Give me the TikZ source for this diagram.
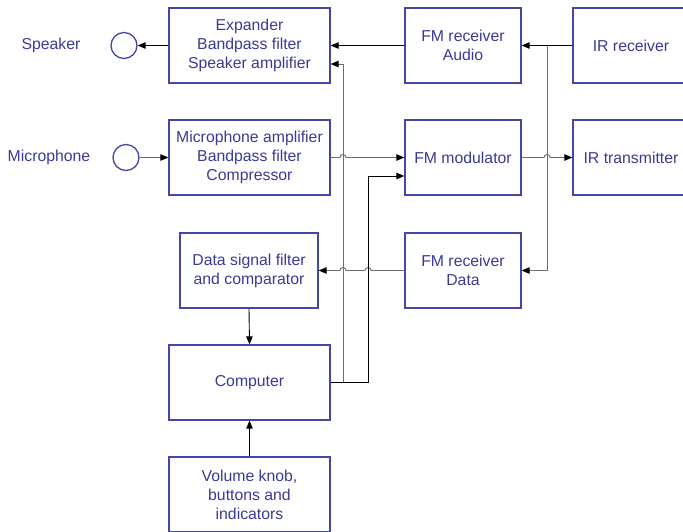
\documentclass[tikz,border=0pt]{standalone}
\usepackage{fontspec}
\setmainfont{Liberation Sans}
\usetikzlibrary{arrows.meta}
\definecolor{txtblue}{RGB}{58,58,150}
\definecolor{boxblue}{RGB}{70,70,165}
\definecolor{wiregray}{RGB}{110,110,110}
\tikzset{
  blk/.style={draw=boxblue, line width=1.3pt, rectangle, minimum height=75pt, inner sep=0pt,
    align=center, text=txtblue, font=\fontsize{15.8}{19}\selectfont},
  lbl/.style={text=txtblue, font=\fontsize{15.8}{19}\selectfont, inner sep=0pt},
  jack/.style={draw=boxblue, line width=1.3pt, circle, minimum size=26pt, inner sep=0pt},
  wire/.style={line width=0.9pt, draw=black},
  gwire/.style={line width=0.9pt, draw=wiregray},
  arr/.style={-{Triangle[length=8pt,width=6.5pt,color=black,fill=black]}},
}
\begin{document}
\begin{tikzpicture}[x=1pt,y=-1pt]
\clip (0,0) rectangle (683,531);
% blocks
\node[blk, minimum width=161pt] (exp) at (249.5,45.5) {Expander\\Bandpass filter\\Speaker amplifier};
\node[blk, minimum width=161pt] (mic) at (249.5,157.5) {Microphone amplifier\\Bandpass filter\\Compressor};
\node[blk, minimum width=116pt] (fma) at (463,45.5) {FM receiver\\Audio};
\node[blk, minimum width=116pt] (fmm) at (463,157.5) {FM modulator};
\node[blk, minimum width=116pt] (fmd) at (463,270.5) {FM receiver\\Data};
\node[blk, minimum width=116pt] (irr) at (631,45.5) {IR receiver};
\node[blk, minimum width=116pt] (irt) at (631,157.5) {IR transmitter};
\node[blk, minimum width=138pt] (dsf) at (249,270.5) {Data signal filter\\and comparator};
\node[blk, minimum width=161pt] (comp) at (249.5,382.5) {Computer};
\node[blk, minimum width=161pt] (vol) at (249.5,494.5) {Volume knob,\\buttons and\\indicators};
% jacks and labels
\node[jack] (spk) at (124,45.5) {};
\node[jack] (mc) at (126,157.5) {};
\node[lbl] (spkl) at (51,45.5) {Speaker};
\node[lbl] (mcl) at (49,157.5) {Microphone};
% connectors
\draw[wire,arr] (exp.west) -- (spk.east);
\draw[gwire,arr] (mc.east) -- (mic.west);
\draw[wire,arr] (fma.west) -- (exp.east);
\draw[wire,arr] (irr.west) -- (fma.east);
\draw[gwire,arr] (547,45.5) -- (547,270.5) -- (fmd.east);
\draw[gwire,arr] (mic.east) -- (340,157.5) arc[start angle=180,end angle=0,radius=3pt] -- (fmm.west);
\draw[gwire,arr] (fmm.east) -- (544,157.5) arc[start angle=180,end angle=0,radius=3pt] -- (irt.west);
\draw[gwire,arr] (fmd.west) -- (371,270.5) arc[start angle=0,end angle=180,radius=3pt]
   -- (346,270.5) arc[start angle=0,end angle=180,radius=3pt] -- (dsf.east);
\draw[gwire,arr] (comp.east) -- (343,382.5) -- (343,64) -- (exp.east |- 343,64);
\draw[wire,arr] (comp.east) -- (368,382.5) -- (368,176) -- (fmm.west |- 368,176);
\draw[wire,arr] (dsf.south) -- (comp.north);
\draw[wire,arr] (vol.north) -- (comp.south);
\end{tikzpicture}
\end{document}
